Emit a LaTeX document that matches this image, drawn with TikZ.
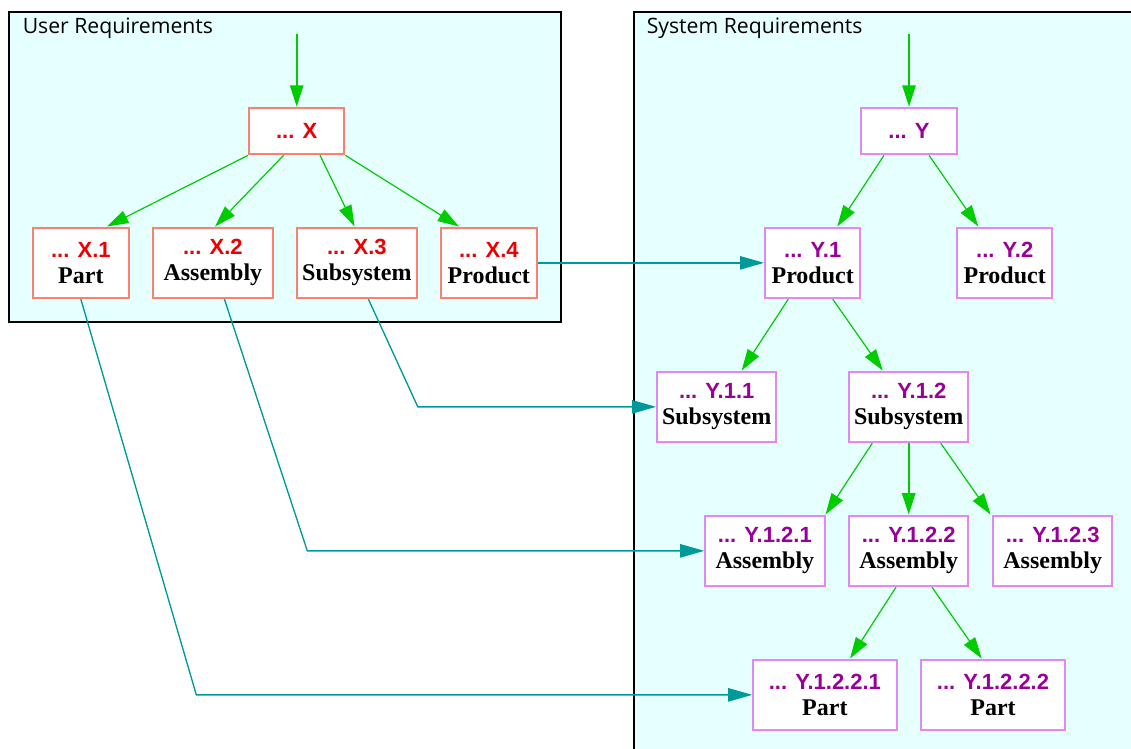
\documentclass[tikz,border=0pt]{standalone}
\usepackage{fontspec}
\setmainfont{Liberation Serif}
\setsansfont{Liberation Sans}
\newfontfamily\grplabelfont{Open Sans}
\usetikzlibrary{arrows.meta,calc}
\definecolor{bgcyan}{HTML}{E6FFFF}
\definecolor{xborder}{HTML}{FA8072}
\definecolor{yborder}{HTML}{E088F8}
\definecolor{xtext}{HTML}{EE0000}
\definecolor{ytext}{HTML}{990099}
\definecolor{treegreen}{HTML}{00CC00}
\definecolor{linkteal}{HTML}{009999}
\newcommand{\reqX}[1]{\textcolor{xtext}{\sffamily\bfseries #1}}
\newcommand{\reqY}[1]{\textcolor{ytext}{\sffamily\bfseries #1}}
\newcommand{\reqKind}[1]{{\rmfamily\bfseries\fontsize{18}{19.5}\selectfont #1}}
\begin{document}
\begin{tikzpicture}[x=0.75pt,y=-0.75pt,
  group/.style={draw=black, line width=1.5pt, fill=bgcyan},
  grplabel/.style={anchor=base west, inner sep=0pt, font=\grplabelfont\fontsize{15.9}{18}\selectfont},
  reqbox/.style={fill=white, line width=1.5pt, inner sep=0pt, minimum height=53pt, align=center, font=\fontsize{16.5}{19.5}\selectfont},
  xbox/.style={reqbox, draw=xborder},
  ybox/.style={reqbox, draw=yborder},
  single/.style={minimum height=35pt},
  wA/.style={minimum width=71.5pt},
  wB/.style={minimum width=89.5pt},
  wC/.style={minimum width=107.5pt},
  tree/.style={draw=treegreen, line width=0.9pt, -{Triangle[length=16pt,width=10pt]}},
  link/.style={draw=linkteal, line width=1pt, -{Triangle[length=18pt,width=10pt]}}]
\useasboundingbox (0,0) rectangle (1131,749);
\clip (0,0) rectangle (1131,749);
% groups
\path[group] (9,12) rectangle (561,322);
\path[group] (633.5,12) rectangle (1145,765);
\node[grplabel] (ulab) at (22.5,33.7) {User Requirements};
\node[grplabel] (slab) at (646.5,33.7) {System Requirements};
% user requirement nodes
\node[xbox,wA,single] (X) at (296.7,131) {\reqX{... X}};
\node[xbox,wA] (X1) at (80.85,262.85) {\reqX{... X.1}\\\reqKind{Part}};
\node[xbox,wB] (X2) at (212.85,262.85) {\reqX{... X.2}\\\reqKind{Assembly}};
\node[xbox,wB] (X3) at (356.85,262.85) {\reqX{... X.3}\\\reqKind{Subsystem}};
\node[xbox,wA] (X4) at (488.85,262.85) {\reqX{... X.4}\\\reqKind{Product}};
% system requirement nodes
\node[ybox,wA,single] (Y) at (909,131) {\reqY{... Y}};
\node[ybox,wA] (Y1) at (812.7,262.85) {\reqY{... Y.1}\\\reqKind{Product}};
\node[ybox,wA] (Y2) at (1004.7,262.85) {\reqY{... Y.2}\\\reqKind{Product}};
\node[ybox,wB] (Y11) at (716.7,406.85) {\reqY{... Y.1.1}\\\reqKind{Subsystem}};
\node[ybox,wB] (Y12) at (908.7,406.85) {\reqY{... Y.1.2}\\\reqKind{Subsystem}};
\node[ybox,wB] (Y121) at (764.85,550.85) {\reqY{... Y.1.2.1}\\\reqKind{Assembly}};
\node[ybox,wB] (Y122) at (908.7,550.85) {\reqY{... Y.1.2.2}\\\reqKind{Assembly}};
\node[ybox,wB] (Y123) at (1052.7,550.85) {\reqY{... Y.1.2.3}\\\reqKind{Assembly}};
\node[ybox,wC] (Y1221) at (824.85,694.85) {\reqY{... Y.1.2.2.1}\\\reqKind{Part}};
\node[ybox,wC] (Y1222) at (993,694.85) {\reqY{... Y.1.2.2.2}\\\reqKind{Part}};
% entry points
\coordinate (inX) at (296.7,34);
\coordinate (inY) at (909,34);
% tree edges
\draw[tree, line width=1.3pt] (inX) -- (X.north);
\draw[tree] (X.south west) -- ($(X1.north)+(26.2,0)$);
\draw[tree] ($(X.south)+(-13.1,0)$) -- ($(X2.north)+(2.2,0)$);
\draw[tree] ($(X.south)+(23.3,0)$) -- ($(X3.north)+(-2.3,0)$);
\draw[tree] (X.south east) -- ($(X4.north)+(-29.9,0)$);
\draw[tree, line width=1.3pt] (inY) -- (Y.north);
\draw[tree] ($(Y.south)+(-25,0)$) -- ($(Y1.north)+(24.6,0)$);
\draw[tree] ($(Y.south)+(20,0)$) -- ($(Y2.north)+(-26.4,0)$);
\draw[tree] ($(Y1.south)+(-24.4,0)$) -- ($(Y11.north)+(25,0)$);
\draw[tree] ($(Y1.south)+(20,0)$) -- ($(Y12.north)+(-26,0)$);
\draw[tree] ($(Y12.south)+(-36.4,0)$) -- (Y121.north east);
\draw[tree, line width=1.3pt] (Y12.south) -- (Y122.north);
\draw[tree] ($(Y12.south)+(32,0)$) -- ($(Y123.north west)+(-1.5,0)$);
\draw[tree] ($(Y122.south)+(-12.7,0)$) -- ($(Y1221.north)+(25.2,0)$);
\draw[tree] ($(Y122.south)+(23.3,0)$) -- ($(Y1222.north)+(-11.3,0)$);
% trace links
\coordinate (b3) at (417.8,0);
\coordinate (b2) at (307.3,0);
\coordinate (b1) at (196.3,0);
\draw[link] (X4.east) -- (Y1.west);
\draw[link] ($(X3.south)+(11.55,0)$) -- (b3 |- Y11.west) -- (Y11.west);
\draw[link] ($(X2.south)+(11.55,0)$) -- (b2 |- Y121.west) -- (Y121.west);
\draw[link] (X1.south) -- (b1 |- Y1221.west) -- (Y1221.west);
\end{tikzpicture}
\end{document}
